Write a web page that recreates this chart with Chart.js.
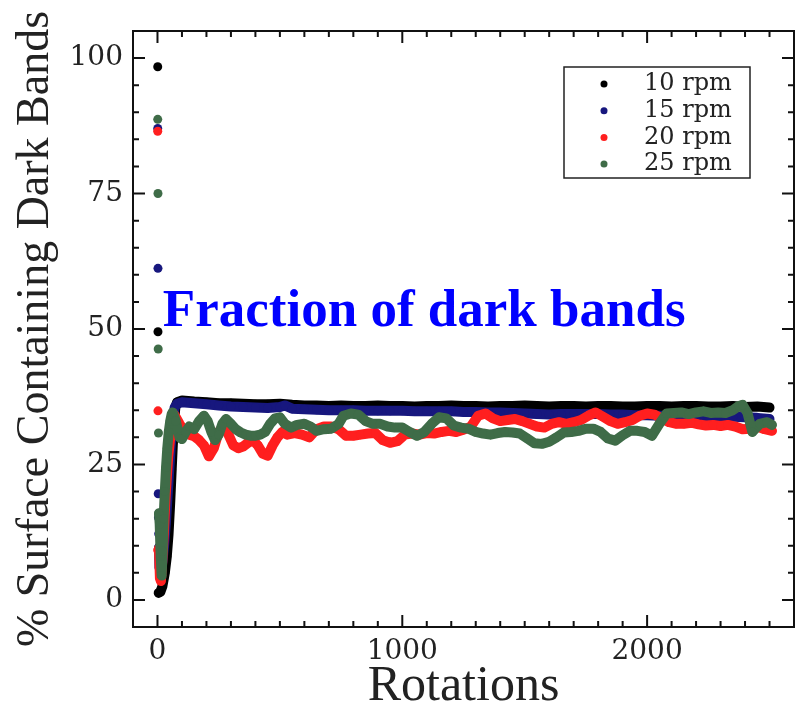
<!DOCTYPE html>
<html>
<head>
<meta charset="utf-8">
<script src="https://cdn.jsdelivr.net/npm/chart.js@4.4.1/dist/chart.umd.min.js"></script>
<style>
    body { margin: 0; background: #fff; }
    #wrap { width: 800px; height: 705px; }
</style>
</head>
<body>
<div id="wrap"><canvas id="bandsChart" width="800" height="705"></canvas></div>
<script>
// Доля поверхности с тёмными полосами в зависимости от числа оборотов
const seriesLabels = ['10 rpm', '15 rpm', '20 rpm', '25 rpm'];
const seriesColors = ['#000000', '#17177e', '#ff1f1f', '#3f6c48'];

const xTicks = [0, 1000, 2000];
const yTicks = [0, 25, 50, 75, 100];

// 10 rpm
const rot10 = [1, 2, 5, 12, 20, 30, 38, 45, 52, 58, 63, 68, 73, 80,
    100, 150, 200, 250, 300, 350, 400, 450, 500, 550, 600, 650, 700, 750, 800, 850, 900, 950,
    1000, 1050, 1100, 1150, 1200, 1250, 1300, 1350, 1400, 1450, 1500, 1550, 1600, 1650, 1700, 1750,
    1800, 1850, 1900, 1950, 2000, 2050, 2100, 2150, 2200, 2250, 2300, 2350, 2400, 2450, 2500];
const pct10 = [98.4, 49.5, 1.3, 1.5, 2.5, 5.0, 8.0, 12.0, 18.0, 24.0, 29.0, 33.0, 35.5, 36.5,
    36.8, 36.6, 36.5, 36.3, 36.3, 36.2, 36.1, 36.1, 36.2, 36.0, 35.9, 35.9, 35.8, 35.9, 35.8, 35.8, 35.9, 35.8,
    35.8, 35.7, 35.8, 35.8, 35.9, 35.8, 35.8, 35.7, 35.8, 35.8, 35.9, 35.8, 35.7, 35.8, 35.8, 35.7,
    35.8, 35.8, 35.7, 35.7, 35.8, 35.8, 35.7, 35.8, 35.8, 35.7, 35.7, 35.8, 35.6, 35.7, 35.5];

// 15 rpm
const rot15 = [1, 2, 3, 4, 5, 6, 8, 14, 20, 27, 34, 41, 48, 55, 62, 70, 80,
    100, 150, 200, 250, 300, 350, 400, 450, 500, 520,
    550, 600, 650, 700, 750, 800, 850, 900, 950, 1000, 1050, 1100, 1150, 1200, 1250, 1300, 1350, 1400,
    1450, 1500, 1550, 1600, 1650, 1700, 1750, 1800, 1850, 1900, 1950, 2000, 2050, 2100, 2150, 2200,
    2250, 2300, 2350, 2400, 2450, 2500];
const pct15 = [87.0, 61.2, 19.6, 15.2, 12.2, 9.7, 6.0, 5.5, 7.0, 10.0, 14.0, 19.0, 24.0, 29.0, 33.0, 35.5, 36.2,
    36.5, 36.3, 36.1, 35.9, 35.7, 35.6, 35.5, 35.4, 35.6, 35.9,
    35.3, 35.2, 35.1, 35.0, 35.0, 35.0, 34.9, 34.9, 34.9, 34.9, 34.8, 34.8, 34.8, 34.8, 34.7, 34.7, 34.6, 34.6,
    34.5, 34.4, 34.3, 34.2, 34.3, 34.3, 34.3, 34.3, 34.2, 34.2, 34.1, 34.1, 34.0, 34.0, 34.0, 33.9,
    33.9, 33.8, 33.8, 33.7, 33.6, 33.4];

// 20 rpm
const rot20 = [1, 2, 3, 6, 10, 14, 18, 22, 27, 32, 38, 44, 50, 56, 62, 68, 75, 90,
    110, 130, 150, 170, 190, 210, 230, 250, 270, 290, 310, 330, 350, 370, 390, 410, 430, 450, 470, 490, 510, 530,
    560, 590, 620, 650, 680, 710, 740, 770, 800, 830, 860, 890, 920, 950, 980, 1010, 1040, 1070, 1100, 1130,
    1160, 1190, 1220, 1250, 1280, 1310, 1340, 1370, 1400, 1430, 1460, 1490, 1520, 1550, 1580, 1610, 1640, 1670,
    1700, 1730, 1760, 1790, 1820, 1850, 1880, 1910, 1940, 1970, 2000, 2030, 2060, 2090, 2120, 2150, 2180, 2210,
    2240, 2270, 2300, 2330, 2360, 2390, 2420, 2450, 2480, 2510];
const pct20 = [86.5, 34.9, 9.2, 9.5, 4.0, 3.5, 6.0, 9.0, 13.0, 18.0, 22.5, 26.5, 29.0, 31.5, 33.5, 34.2, 33.7, 32.5,
    31.0, 30.5, 30.2, 29.5, 28.5, 26.5, 28.0, 31.0, 32.0, 30.5, 28.5, 28.0, 28.3, 29.0, 29.5, 28.5, 27.0, 26.6, 28.5, 30.0, 31.0, 30.5,
    30.8, 30.5, 30.0, 31.5, 32.0, 32.0, 31.5, 30.3, 30.3, 30.5, 30.7, 30.8, 29.5, 29.0, 29.3, 30.5, 30.7, 30.5, 30.8, 30.7,
    31.0, 31.2, 31.0, 31.4, 32.0, 34.0, 34.4, 33.5, 33.0, 33.2, 33.4, 33.0, 32.5, 32.0, 31.8, 32.5, 32.8, 32.5,
    32.8, 33.2, 34.0, 34.6, 33.8, 33.0, 32.5, 32.8, 33.2, 34.0, 34.4, 34.2, 33.5, 32.8, 32.5, 32.5, 32.7, 32.4,
    32.2, 32.3, 32.1, 32.3, 32.0, 31.5, 31.6, 32.0, 31.5, 31.2];

// 25 rpm
const rot25 = [1, 2, 3, 4, 6, 9, 13, 17, 21, 25, 30, 35, 40, 46, 52, 58, 62,
    75, 90, 100, 115, 130, 150, 170, 190, 205, 220, 235, 250, 265, 280, 300, 320, 340, 360, 380, 400,
    420, 440, 460, 480, 500, 520, 545, 570, 600, 625, 650, 680, 710, 740, 760, 790, 820,
    850, 880, 910, 940, 970, 1000, 1030, 1060, 1090, 1120, 1150, 1180, 1210, 1240, 1270, 1300, 1330, 1360,
    1390, 1420, 1450, 1480, 1510, 1540, 1570, 1600, 1630, 1660, 1690, 1720, 1750, 1780, 1810, 1840, 1870, 1900,
    1930, 1960, 1990, 2020, 2050, 2080, 2110, 2140, 2170, 2200, 2230, 2260, 2290, 2320, 2350,
    2375, 2390, 2410, 2430, 2460, 2490, 2510];
const pct25 = [88.7, 75.0, 46.3, 30.8, 16.0, 14.0, 8.0, 4.5, 9.0, 15.0, 20.0, 24.5, 28.0, 31.0, 33.0, 34.3, 34.6,
    33.0, 30.0, 29.7, 31.0, 32.0, 31.5, 33.0, 34.0, 33.0, 31.0, 29.5, 30.5, 32.5, 33.4, 32.5, 31.5, 30.9, 30.5, 30.3, 30.3,
    30.5, 31.0, 32.5, 33.5, 33.7, 32.5, 31.8, 32.3, 32.5, 32.0, 31.2, 31.5, 31.6, 32.5, 34.0, 34.4, 34.2,
    33.0, 32.5, 32.5, 32.0, 31.8, 31.8, 31.0, 30.3, 31.0, 32.5, 33.7, 33.5, 32.2, 31.8, 31.6, 31.0, 30.7, 30.5,
    30.8, 31.0, 30.9, 30.7, 29.8, 28.9, 28.8, 29.2, 30.0, 30.9, 31.0, 31.2, 31.6, 31.6, 31.0, 29.8, 29.4, 30.4,
    31.2, 31.2, 31.0, 30.3, 32.5, 34.4, 34.5, 34.6, 34.3, 34.6, 34.8, 34.5, 34.6, 34.5, 35.0,
    35.8, 36.0, 34.5, 31.0, 32.5, 32.8, 32.3];

// Сколько первых точек каждой серии рисуется отдельно, без соединения
const leadPoints = [2, 5, 2, 4];

const noteText = 'Fraction of dark bands';

const rotations = [rot10, rot15, rot20, rot25];
const percents = [pct10, pct15, pct20, pct25];

const toPoints = (xs, ys) => xs.slice(0, Math.min(xs.length, ys.length)).map((x, i) => ({ x, y: ys[i] }));

// Рамка вокруг области графика и засечки внутрь на всех четырёх сторонах
const frameTicks = {
    id: 'frameTicks',
    afterDraw(chart) {
        const { ctx, chartArea: a, scales: { x, y } } = chart;
        ctx.save();
        ctx.strokeStyle = '#111';
        ctx.lineWidth = 2;
        ctx.strokeRect(a.left, a.top, a.right - a.left, a.bottom - a.top);
        ctx.beginPath();
        for (let v = x.min; v <= x.max; v += 100) {
            const px = x.getPixelForValue(v);
            if (px <= a.left + 2 || px >= a.right - 2) continue;
            const len = v % 1000 === 0 ? 12 : 6;
            ctx.moveTo(px, a.bottom); ctx.lineTo(px, a.bottom - len);
            ctx.moveTo(px, a.top); ctx.lineTo(px, a.top + len);
        }
        for (let v = y.min; v <= y.max; v += 5) {
            const py = y.getPixelForValue(v);
            if (py >= a.bottom - 2 || py <= a.top + 2) continue;
            const len = v % 25 === 0 ? 12 : 6;
            ctx.moveTo(a.left, py); ctx.lineTo(a.left + len, py);
            ctx.moveTo(a.right, py); ctx.lineTo(a.right - len, py);
        }
        ctx.stroke();
        ctx.restore();
    }
};

// Легенда в рамке в правом верхнем углу
const boxLegend = {
    id: 'boxLegend',
    afterDraw(chart) {
        const { ctx, chartArea: a } = chart;
        const w = 186, h = 111;
        const left = a.right - 44 - w;
        const top = a.top + 36;
        ctx.save();
        ctx.fillStyle = '#fff';
        ctx.fillRect(left, top, w, h);
        ctx.strokeStyle = '#222';
        ctx.lineWidth = 1.5;
        ctx.strokeRect(left, top, w, h);
        ctx.font = '24px "DejaVu Serif", serif';
        ctx.textBaseline = 'middle';
        ctx.textAlign = 'left';
        chart.data.datasets.forEach((ds, i) => {
            const cy = top + 17 + i * 26.7;
            ctx.fillStyle = ds.pointBackgroundColor;
            ctx.beginPath();
            ctx.arc(left + 40, cy, 3.5, 0, Math.PI * 2);
            ctx.fill();
            ctx.fillStyle = '#222';
            ctx.fillText(ds.label, left + 80, cy);
        });
        ctx.restore();
    }
};

// Синяя надпись поверх графика
const bandNote = {
    id: 'bandNote',
    afterDraw(chart) {
        const { ctx, scales: { x, y } } = chart;
        ctx.save();
        ctx.font = 'bold 53px "Liberation Serif", serif';
        ctx.fillStyle = '#0000ff';
        ctx.textBaseline = 'alphabetic';
        ctx.textAlign = 'left';
        ctx.fillText(noteText, x.getPixelForValue(22), y.getPixelForValue(50.6));
        ctx.restore();
    }
};

const datasets = seriesLabels.map((label, i) => ({
    label,
    data: toPoints(rotations[i], percents[i]),
    showLine: true,
    borderColor: seriesColors[i],
    borderWidth: 10,
    borderJoinStyle: 'round',
    borderCapStyle: 'round',
    pointBackgroundColor: seriesColors[i],
    pointBorderWidth: 0,
    pointRadius: 4.5,
    tension: 0,
    order: seriesLabels.length - i,
    segment: {
        borderColor: c => c.p1DataIndex <= leadPoints[i] ? 'rgba(0,0,0,0)' : undefined
    }
}));

const tickFont = { family: '"DejaVu Serif", serif', size: 28 };
const titleFont = { family: '"Liberation Serif", serif' };

new Chart(document.getElementById('bandsChart'), {
    type: 'scatter',
    data: { datasets },
    options: {
        responsive: false,
        animation: false,
        layout: { padding: { top: 31, right: 6, left: 0, bottom: 0 } },
        plugins: {
            legend: { display: false },
            tooltip: { enabled: false }
        },
        scales: {
            x: {
                type: 'linear',
                min: -100,
                max: 2600,
                afterBuildTicks: s => { s.ticks = xTicks.map(v => ({ value: v })); },
                afterFit: s => { s.height = 78; },
                grid: { display: false, drawTicks: false },
                border: { display: false },
                ticks: { font: tickFont, color: '#222', padding: 8, maxRotation: 0, callback: v => String(v) },
                title: {
                    display: true,
                    text: 'Rotations',
                    color: '#222',
                    font: { ...titleFont, size: 50, lineHeight: 0.72 },
                    padding: 0
                }
            },
            y: {
                type: 'linear',
                min: -5,
                max: 105,
                afterBuildTicks: s => { s.ticks = yTicks.map(v => ({ value: v })); },
                afterFit: s => { s.width = 133; },
                grid: { display: false, drawTicks: false },
                border: { display: false },
                ticks: { font: tickFont, color: '#222', padding: 10, callback: v => String(v) },
                title: {
                    display: true,
                    text: '% Surface Containing Dark Bands',
                    color: '#222',
                    font: { ...titleFont, size: 46, lineHeight: 1 },
                    padding: { top: 13, bottom: 0 }
                }
            }
        }
    },
    plugins: [frameTicks, boxLegend, bandNote]
});
</script>
</body>
</html>
